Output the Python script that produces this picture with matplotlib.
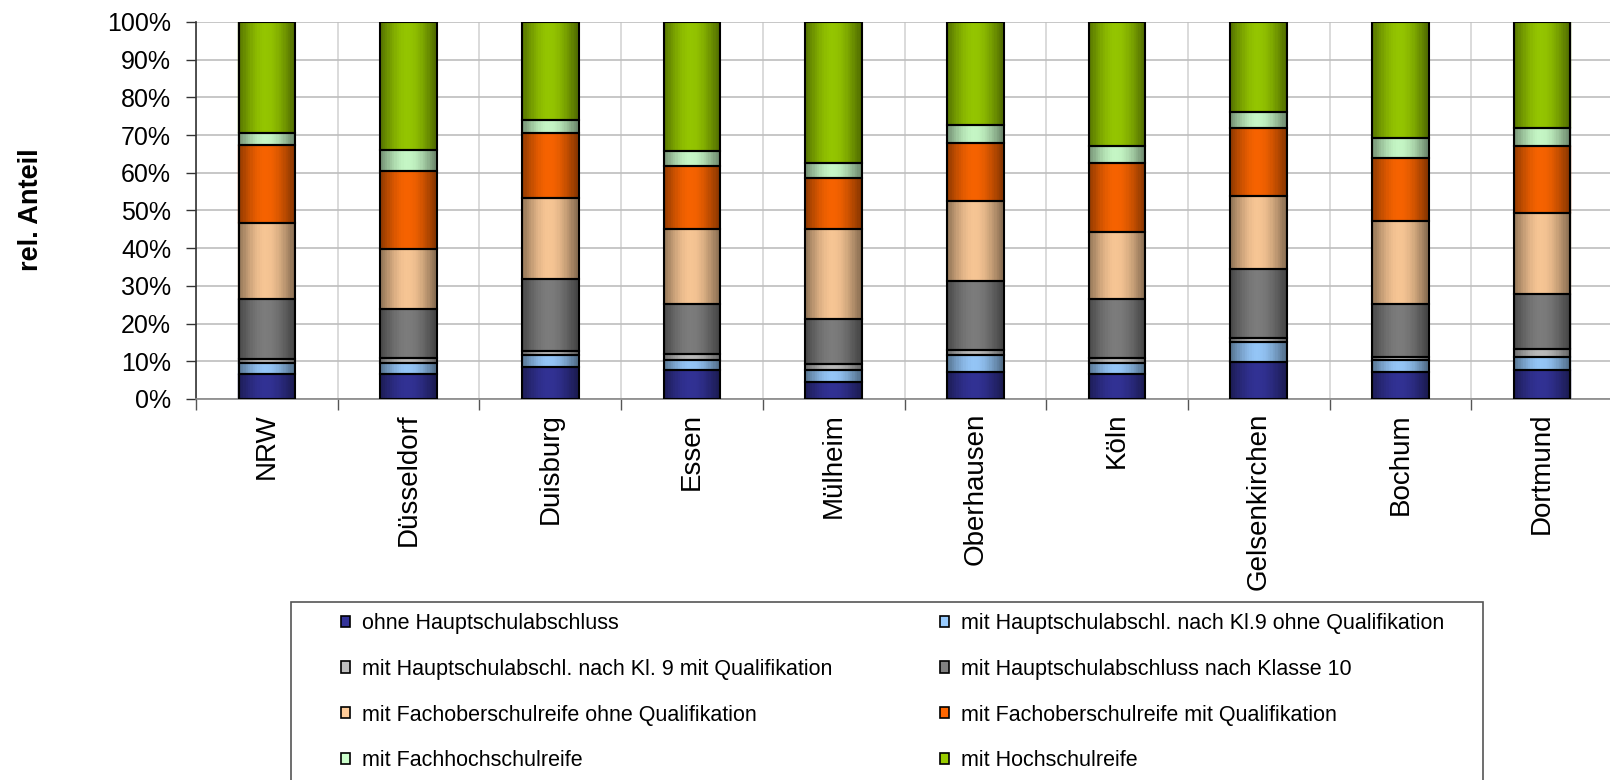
import numpy as np
import matplotlib
matplotlib.use("Agg")
import matplotlib.pyplot as plt
from matplotlib.patches import Patch, Rectangle
from matplotlib.ticker import FuncFormatter, FixedLocator
from matplotlib.colors import to_rgb, to_hex

plt.rcParams['font.family'] = ['Liberation Sans', 'DejaVu Sans']

categories = ["NRW", "Düsseldorf", "Duisburg", "Essen", "Mülheim",
              "Oberhausen", "Köln", "Gelsenkirchen", "Bochum", "Dortmund"]

series_names = [
    "ohne Hauptschulabschluss",
    "mit Hauptschulabschl. nach Kl.9 ohne Qualifikation",
    "mit Hauptschulabschl. nach Kl. 9 mit Qualifikation",
    "mit Hauptschulabschluss nach Klasse 10",
    "mit Fachoberschulreife ohne Qualifikation",
    "mit Fachoberschulreife mit Qualifikation",
    "mit Fachhochschulreife",
    "mit Hochschulreife",
]

ohne_hsa      = [6.5, 6.5, 8.5, 7.8, 4.4, 7.1, 6.5, 9.8, 7.1, 7.8]
hsa9_ohne_q   = [3.1, 3.0, 3.2, 2.6, 3.2, 4.6, 3.0, 5.2, 3.3, 3.3]
hsa9_mit_q    = [1.1, 1.4, 0.9, 1.5, 1.6, 1.4, 1.5, 1.3, 0.7, 2.2]
hsa10         = [15.9, 13.0, 19.3, 13.3, 12.0, 18.1, 15.5, 18.2, 14.0, 14.5]
for_ohne_q    = [20.1, 15.9, 21.3, 19.9, 23.9, 21.4, 17.9, 19.4, 22.1, 21.5]
for_mit_q     = [20.6, 20.8, 17.3, 16.7, 13.4, 15.3, 18.1, 18.0, 16.8, 17.8]
fhr           = [3.3, 5.4, 3.4, 4.1, 4.0, 4.8, 4.7, 4.1, 5.2, 4.9]
hsr           = [29.4, 34.0, 26.1, 34.1, 37.5, 27.3, 32.8, 24.0, 30.8, 28.0]

series_values = [ohne_hsa, hsa9_ohne_q, hsa9_mit_q, hsa10,
                 for_ohne_q, for_mit_q, fhr, hsr]

colors = ["#333399", "#99ccff", "#c0c0c0", "#808080",
          "#ffcc99", "#ff6600", "#ccffcc", "#99cc00"]

ytick_vals = [0, 10, 20, 30, 40, 50, 60, 70, 80, 90, 100]

W, H = 1610, 780
fig = plt.figure(figsize=(W / 100, H / 100), dpi=100)
ax = fig.add_axes([196 / W, 1 - 399 / H, 1417 / W, 377 / H])

x = np.arange(len(categories))
bar_w = 0.4
n_cat = len(categories)

# horizontal shading across each bar: dark edges, bright centre
n_slices = 24
tc = (np.arange(n_slices) + 0.5) / n_slices
prof = (0.56 + 0.44 * np.sin(np.pi * tc) ** 1.1) * (1.0 - 0.07 * tc)
slice_w = bar_w / n_slices
offsets = -bar_w / 2 + (np.arange(n_slices) + 0.5) * slice_w

bottom = np.zeros(n_cat)
for vals, col in zip(series_values, colors):
    vals = np.array(vals)
    base = np.array(to_rgb(col))
    for off, f in zip(offsets, prof):
        shade = to_hex(np.clip(base * f, 0, 1))
        ax.bar(x + off, vals, slice_w * 1.05, bottom=bottom,
               color=[shade] * n_cat, edgecolor=[shade] * n_cat,
               linewidth=0.3, zorder=2.2)
    ax.bar(x, vals, bar_w, bottom=bottom, facecolor='none',
           edgecolor='black', linewidth=1.5, zorder=3)
    bottom += vals

ax.set_xlim(-0.5, n_cat - 0.5)
ax.set_ylim(0, 100)

ax.set_yticks(ytick_vals)
ax.yaxis.set_major_formatter(FuncFormatter(lambda v, p: f"{v:.0f}%"))
ax.tick_params(axis='y', labelsize=18, length=7, width=1, pad=11,
               color='#333333')

ax.set_xticks(x)
ax.set_xticklabels(categories, rotation=90, fontsize=20)
ax.xaxis.set_minor_locator(FixedLocator(np.arange(n_cat + 1) - 0.5))
ax.tick_params(axis='x', which='major', length=0, pad=10)
ax.tick_params(axis='x', which='minor', length=8, width=1, color='#555555')

ax.grid(axis='y', which='major', color='#bdbdbd', linewidth=1.2, zorder=0)
ax.grid(axis='x', which='minor', color='#d4d4d4', linewidth=1.2, zorder=0)
ax.set_axisbelow(True)

for s in ['top', 'right']:
    ax.spines[s].set_visible(False)
ax.spines['left'].set_color('#333333')
ax.spines['bottom'].set_color('#888888')
ax.spines['left'].set_linewidth(1.2)
ax.spines['bottom'].set_linewidth(1.2)

fig.text(31 / W, 1 - 210 / H, "rel. Anteil", rotation=90, fontsize=19.5,
         fontweight='bold', ha='center', va='center')

# legend frame (extends beyond the bottom of the figure)
fig.patches.append(Rectangle((291 / W, -0.05), (1483 - 291) / W,
                             (1 - 602 / H) + 0.05, transform=fig.transFigure,
                             facecolor='white', edgecolor='#555555',
                             linewidth=1.2, zorder=0))

handles = [Patch(facecolor=c, edgecolor='black', linewidth=1.2) for c in colors]
left_idx = [0, 2, 4, 6]
right_idx = [1, 3, 5, 7]
leg_kw = dict(frameon=False, loc='upper left', fontsize=15.5,
              handlelength=0.42, handleheight=0.42, handletextpad=0.55,
              labelspacing=1.15, borderpad=0, borderaxespad=0)
leg1 = fig.legend([handles[i] for i in left_idx],
                  [series_names[i] for i in left_idx],
                  bbox_to_anchor=(341 / W, 1 - 613 / H), **leg_kw)
leg2 = fig.legend([handles[i] for i in right_idx],
                  [series_names[i] for i in right_idx],
                  bbox_to_anchor=(940 / W, 1 - 613 / H), **leg_kw)

fig.savefig("out.png", dpi=100)
